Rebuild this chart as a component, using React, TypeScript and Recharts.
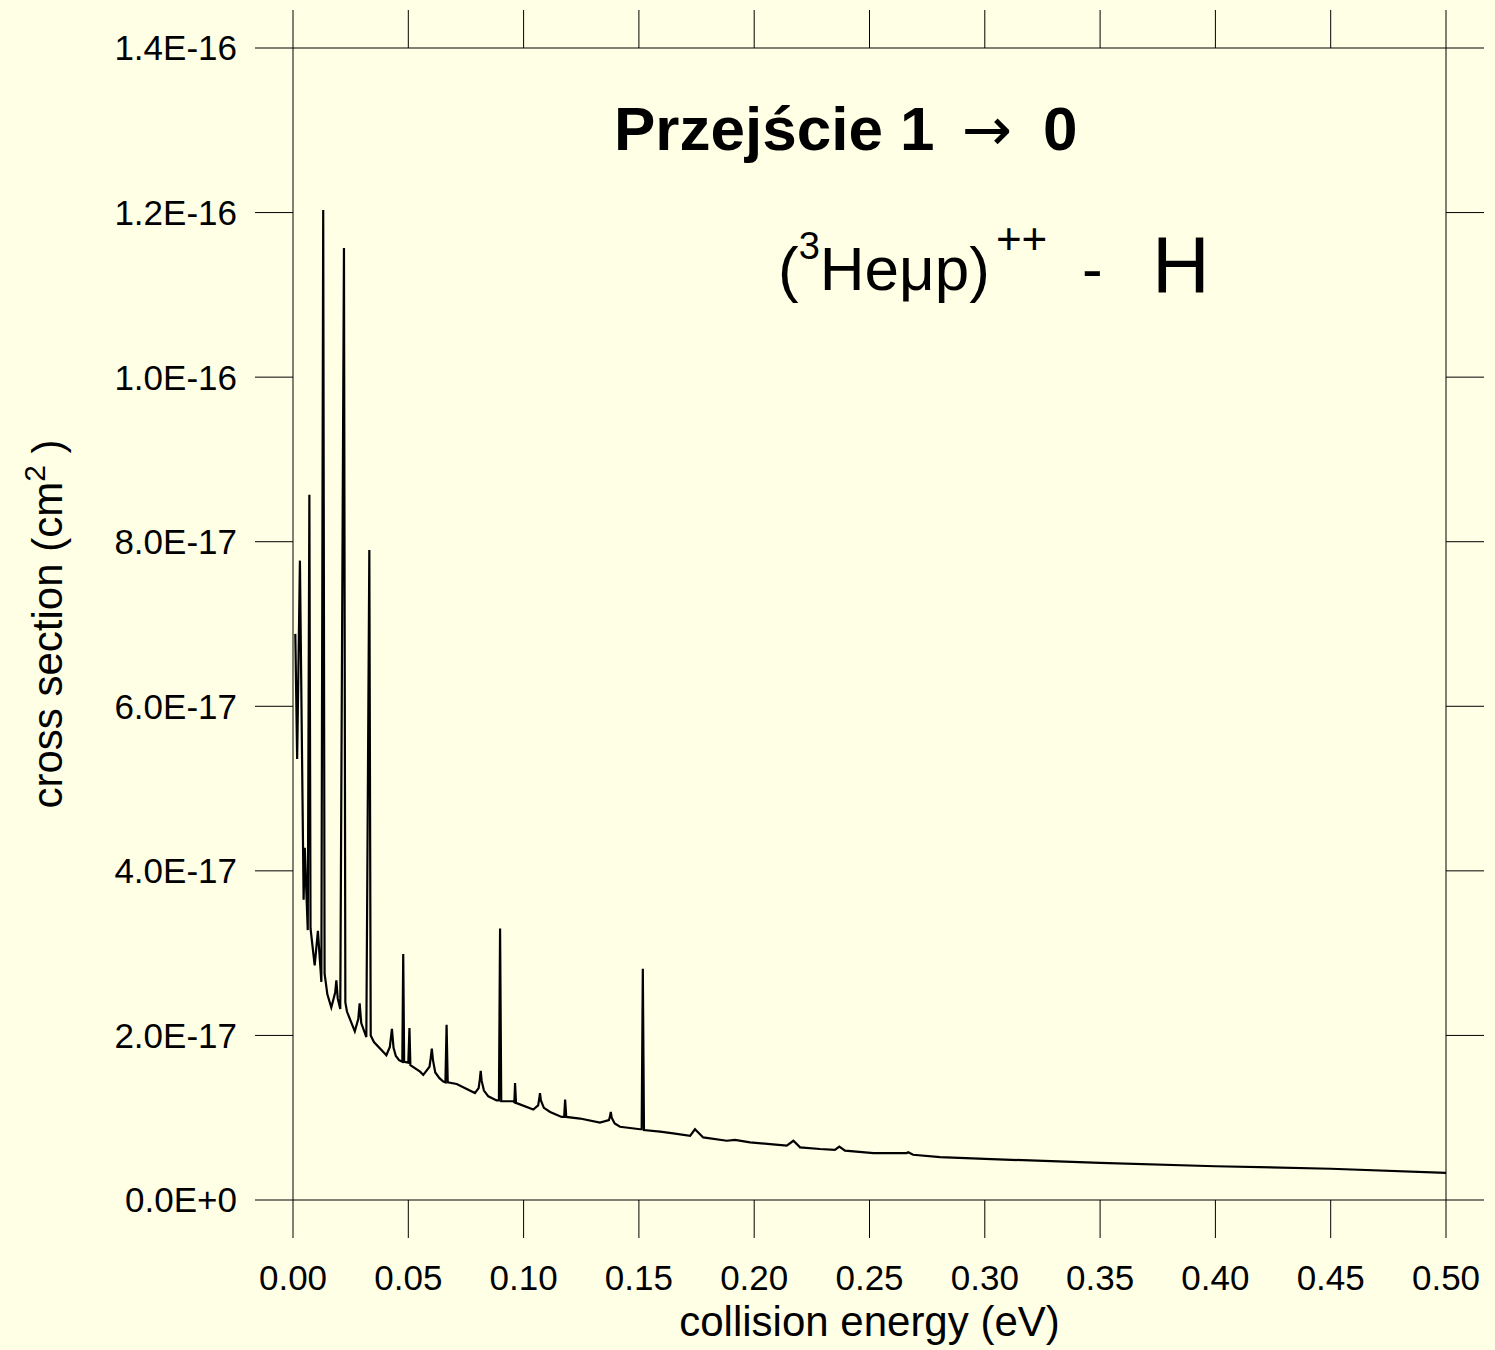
import React from 'react';
import { LineChart, Line, XAxis, YAxis } from 'recharts';

// collision energy (eV)
const energy = [
  0.001, 0.0018, 0.003, 0.0046, 0.0051, 0.0064, 0.0071, 0.0076, 0.0094, 0.0108,
  0.0123, 0.0131, 0.0137, 0.0149, 0.0166, 0.0183, 0.0188, 0.0194, 0.0205, 0.0221,
  0.0227, 0.0234, 0.0268, 0.0283, 0.0289, 0.0296, 0.0318, 0.0331, 0.0337, 0.0351,
  0.0405, 0.042, 0.0429, 0.0436, 0.0446, 0.046, 0.0474, 0.0478, 0.0482, 0.05,
  0.0505, 0.0509, 0.0551, 0.0565, 0.0592, 0.0597, 0.0602, 0.0607, 0.0617, 0.0635,
  0.0652, 0.0661, 0.0666, 0.0671, 0.071, 0.0789, 0.0805, 0.081, 0.0814, 0.0818,
  0.0828, 0.0847, 0.0883, 0.0893, 0.0898, 0.0903, 0.0955, 0.096, 0.0963, 0.0967,
  0.1042, 0.1063, 0.1068, 0.1071, 0.1075, 0.1088, 0.1115, 0.1165, 0.1176, 0.118,
  0.1185, 0.1245, 0.1331, 0.137, 0.1375, 0.1378, 0.1382, 0.1395, 0.1418, 0.1505,
  0.1512, 0.1517, 0.1522, 0.1592, 0.1649, 0.1722, 0.1743, 0.1779, 0.1881, 0.1917,
  0.1982, 0.2069, 0.2141, 0.217, 0.2199, 0.2285, 0.235, 0.2369, 0.2394, 0.2517,
  0.2661, 0.2668, 0.2689, 0.2806, 0.3, 0.35, 0.4, 0.45, 0.5,
];

// cross section, in units of 1E-17 cm^2
const sigma = [
  6.88, 5.36, 7.77, 3.65, 4.28, 3.28, 8.57, 3.3, 2.85, 3.27,
  2.65, 12.03, 2.75, 2.5, 2.34, 2.52, 2.67, 2.45, 2.32, 11.57,
  2.4, 2.29, 2.05, 2.2, 2.39, 2.15, 1.98, 7.9, 2.0, 1.92,
  1.76, 1.86, 2.08, 1.85, 1.75, 1.7, 1.68, 2.99, 1.68, 1.67,
  2.09, 1.64, 1.56, 1.52, 1.62, 1.72, 1.84, 1.7, 1.55, 1.48,
  1.44, 1.43, 2.13, 1.43, 1.41, 1.3, 1.36, 1.46, 1.57, 1.45,
  1.33, 1.26, 1.21, 1.21, 3.3, 1.2, 1.2, 1.19, 1.42, 1.18,
  1.1, 1.15, 1.23, 1.3, 1.21, 1.12, 1.07, 1.01, 1.01, 1.22,
  1.01, 0.99, 0.94, 0.97, 1.02, 1.07, 1.0, 0.93, 0.89, 0.86,
  0.86, 2.81, 0.85, 0.83, 0.81, 0.78, 0.86, 0.76, 0.72, 0.73,
  0.7, 0.68, 0.66, 0.72, 0.64, 0.62, 0.61, 0.65, 0.6, 0.57,
  0.57, 0.58, 0.55, 0.52, 0.5, 0.45, 0.41, 0.38, 0.33,
];

const xTicks = [0, 0.05, 0.1, 0.15, 0.2, 0.25, 0.3, 0.35, 0.4, 0.45, 0.5];
const yTicks = [0, 2e-17, 4e-17, 6e-17, 8e-17, 1e-16, 1.2e-16, 1.4e-16];

const data = energy.map((e, i) => ({ e, s: sigma[i] * 1e-17 }));

const FONT = '"Liberation Sans", Arial, Helvetica, sans-serif';
const BG = '#FFFFE6';
const TICK_LEN = 38;

const fmtX = (v: number) => v.toFixed(2);
const fmtY = (v: number) => v.toExponential(1).toUpperCase();

const NoTick = () => <g />;

const XTitle = ({ viewBox }: any) => (
  <text x={viewBox.x + viewBox.width / 2} y={viewBox.y + 136} textAnchor="middle" fontSize={42} fill="#000">
    collision energy (eV)
  </text>
);

const YTitle = ({ viewBox }: any) => {
  const cx = viewBox.x + 62;
  const cy = viewBox.y + viewBox.height / 2;
  return (
    <text x={cx} y={cy} transform={`rotate(-90, ${cx}, ${cy})`} textAnchor="middle" fontSize={42} fill="#000">
      cross section (cm<tspan dy={-17} fontSize={30}>2</tspan>
      <tspan dy={17}> )</tspan>
    </text>
  );
};

export default function App() {
  const tickStyle = { fill: '#000', fontSize: 35 };
  return (
    <div style={{ position: 'absolute', left: 0, top: 0, width: 1495, height: 1350, background: BG, fontFamily: FONT }}>
      <LineChart width={1495} height={1350} data={data} margin={{ top: 0, right: 0, bottom: 0, left: 0 }}>
        <XAxis
          dataKey="e"
          type="number"
          domain={[0, 0.5]}
          allowDataOverflow
          ticks={xTicks}
          interval={0}
          tickFormatter={fmtX}
          height={150}
          tickSize={TICK_LEN}
          tickMargin={27}
          tick={tickStyle}
          stroke="#000"
          label={{ content: XTitle }}
        />
        <XAxis
          xAxisId="top"
          orientation="top"
          dataKey="e"
          type="number"
          domain={[0, 0.5]}
          allowDataOverflow
          ticks={xTicks}
          interval={0}
          height={48}
          tickSize={TICK_LEN}
          tick={NoTick}
          stroke="#000"
        />
        <YAxis
          type="number"
          domain={[0, 1.4e-16]}
          allowDataOverflow
          ticks={yTicks}
          interval={0}
          tickFormatter={fmtY}
          width={293}
          tickSize={TICK_LEN}
          tickMargin={18}
          tick={tickStyle}
          stroke="#000"
          label={{ content: YTitle }}
        />
        <YAxis
          yAxisId="right"
          orientation="right"
          type="number"
          domain={[0, 1.4e-16]}
          allowDataOverflow
          ticks={yTicks}
          interval={0}
          width={49}
          tickSize={TICK_LEN}
          tick={NoTick}
          stroke="#000"
        />
        <Line
          type="linear"
          dataKey="s"
          stroke="#000"
          strokeWidth={2.2}
          dot={false}
          isAnimationActive={false}
        />
      </LineChart>
      <svg width={1495} height={1350} style={{ position: 'absolute', left: 0, top: 0, pointerEvents: 'none' }}>
        <text x={614} y={150} fontSize={62} fontWeight="bold" fill="#000">
          Przejście 1
          <tspan x={962} fontWeight="normal" fontFamily="DejaVu Sans" fontSize={60}>→</tspan>
          <tspan x={1043}>0</tspan>
        </text>
        <text x={778} y={290} fontSize={62} fill="#000">
          (<tspan dy={-31} fontSize={38}>3</tspan>
          <tspan dy={31}>Heμp)</tspan>
          <tspan dy={-36} dx={6} fontSize={44}>++</tspan>
        </text>
        <text x={1082} y={290} fontSize={62} fill="#000">-</text>
        <text x={1152} y={292} fontSize={80} fill="#000">H</text>
      </svg>
    </div>
  );
}
